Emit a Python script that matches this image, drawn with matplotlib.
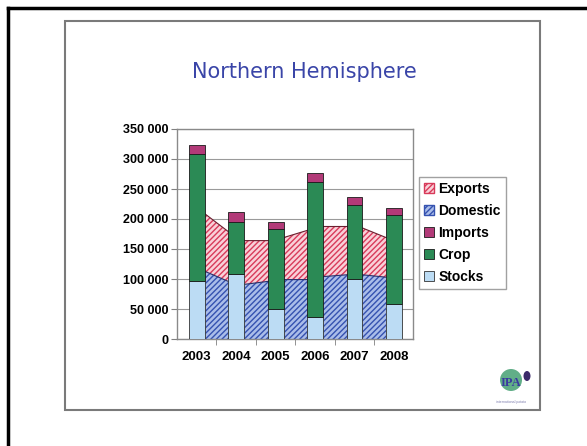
import numpy as np
import matplotlib.pyplot as plt
from matplotlib.patches import Rectangle, Patch, Ellipse

plt.rcParams["font.family"] = ["Liberation Sans", "DejaVu Sans"]
plt.rcParams["hatch.linewidth"] = 1.0

# data (thousands)
years = ["2003", "2004", "2005", "2006", "2007", "2008"]
stocks = [97000, 108000, 50000, 37000, 100000, 59000]
crop = [212000, 87000, 133000, 224000, 123500, 148000]
imports = [14000, 17000, 12000, 16000, 12500, 12000]

# area series, read at the left / right edge of each gap between bars
domestic_left = [113000, 91000, 99000, 104000, 107000]
domestic_right = [96000, 96000, 99000, 107000, 103000]
exports_left = [96000, 73000, 70000, 83500, 78000]
exports_right = [83000, 68000, 82000, 80500, 66000]

yticks = [0, 50000, 100000, 150000, 200000, 250000, 300000, 350000]

c_stocks = "#bcdcf4"
c_crop = "#2b8a55"
c_imports = "#b23a78"
c_exp_face = "#f9d0d8"
c_exp_hatch = "#d83a5a"
c_dom_face = "#aabde9"
c_dom_hatch = "#3552b0"

fig = plt.figure(figsize=(5.87, 4.46), dpi=100)

# slide frame
fig.add_artist(plt.Line2D([8 / 587, 8 / 587], [0, 1 - 8 / 446], color="black", lw=2.5))
fig.add_artist(plt.Line2D([8 / 587, 1], [1 - 8 / 446, 1 - 8 / 446], color="black", lw=2.5))
fig.add_artist(Rectangle((65 / 587, 1 - 410 / 446), 475 / 587, 389 / 446,
                         fill=False, edgecolor="#7a7a7a", lw=1.5, transform=fig.transFigure))

fig.text(304 / 587, 1 - 72 / 446, "Northern Hemisphere", color="#3a45a8",
         fontsize=15, ha="center", va="center", family="DejaVu Sans")

ax = fig.add_axes([177 / 587, 1 - 339 / 446, 236 / 587, 210 / 446])
x = np.arange(len(years))
w = 0.4

# area between bars
xs, dom, exp_top = [], [], []
for i in range(len(domestic_left)):
    xs += [x[i] + w / 2, x[i + 1] - w / 2]
    dom += [domestic_left[i], domestic_right[i]]
    exp_top += [domestic_left[i] + exports_left[i], domestic_right[i] + exports_right[i]]
xs = np.array(xs)
ax.fill_between(xs, 0, dom, facecolor=c_dom_face, edgecolor=c_dom_hatch, hatch="//////", lw=0, zorder=2)
ax.fill_between(xs, dom, exp_top, facecolor=c_exp_face, edgecolor=c_exp_hatch, hatch="//////", lw=0, zorder=2)
ax.plot(xs, dom, color="#27306a", lw=0.8, zorder=2)
ax.plot(xs, exp_top, color="#6a2030", lw=0.8, zorder=2)

bottom2 = np.array(stocks) + np.array(crop)
ax.bar(x, stocks, w, color=c_stocks, edgecolor="#333333", lw=0.6, zorder=3)
ax.bar(x, crop, w, bottom=stocks, color=c_crop, edgecolor="#1a1a1a", lw=0.6, zorder=3)
ax.bar(x, imports, w, bottom=bottom2, color=c_imports, edgecolor="#1a1a1a", lw=0.6, zorder=3)

ax.set_xlim(-0.5, 5.48)
ax.set_ylim(0, 350000)
ax.set_yticks(yticks)
ax.set_yticklabels([f"{v:,}".replace(",", " ") for v in yticks], fontsize=9, fontweight="bold")
ax.set_xticks(x)
ax.set_xticklabels(years, fontsize=9.5, fontweight="bold")
ax.set_xticks(x[:-1] + 0.5, minor=True)
ax.tick_params(axis="x", which="major", length=0, pad=9)
ax.tick_params(axis="x", which="minor", length=4, color="#808080")
ax.tick_params(axis="y", length=4, color="#808080", pad=2)
ax.yaxis.grid(True, color="#9a9a9a", lw=0.8)
ax.set_axisbelow(True)
for s in ax.spines.values():
    s.set_color("#8a8a8a")
    s.set_linewidth(1.0)

handles = [
    Patch(facecolor=c_exp_face, edgecolor=c_exp_hatch, hatch="//////", label="Exports"),
    Patch(facecolor=c_dom_face, edgecolor=c_dom_hatch, hatch="//////", label="Domestic"),
    Patch(facecolor=c_imports, edgecolor="#1a1a1a", lw=0.6, label="Imports"),
    Patch(facecolor=c_crop, edgecolor="#1a1a1a", lw=0.6, label="Crop"),
    Patch(facecolor=c_stocks, edgecolor="#333333", lw=0.6, label="Stocks"),
]
leg = fig.legend(handles=handles, loc="upper left", bbox_to_anchor=(419 / 587, 1 - 177 / 446),
                 frameon=True, fancybox=False, prop={"weight": "bold", "size": 10},
                 handlelength=0.75, handleheight=0.75, handletextpad=0.3, labelspacing=0.58,
                 borderpad=0.35, borderaxespad=0)
leg.get_frame().set_edgecolor("#8a8a8a")
leg.get_frame().set_linewidth(1.0)

# small logo bottom right
fig.add_artist(Ellipse((511 / 587, 1 - 380 / 446), 22 / 587, 22 / 446, facecolor="#3a9a6a",
                       edgecolor="none", alpha=0.8, transform=fig.transFigure))
fig.add_artist(Ellipse((527 / 587, 1 - 376 / 446), 7 / 587, 10 / 446, facecolor="#3c2a6a",
                       edgecolor="none", transform=fig.transFigure))
fig.text(511 / 587, 1 - 383 / 446, "IPA", color="#3a3aa0", fontsize=9, fontweight="bold",
         family="Liberation Serif", ha="center", va="center")
fig.text(511 / 587, 1 - 402 / 446, "international potato", color="#8080b0", fontsize=2.5,
         ha="center", va="center")

fig.savefig("out.png", dpi=100)
